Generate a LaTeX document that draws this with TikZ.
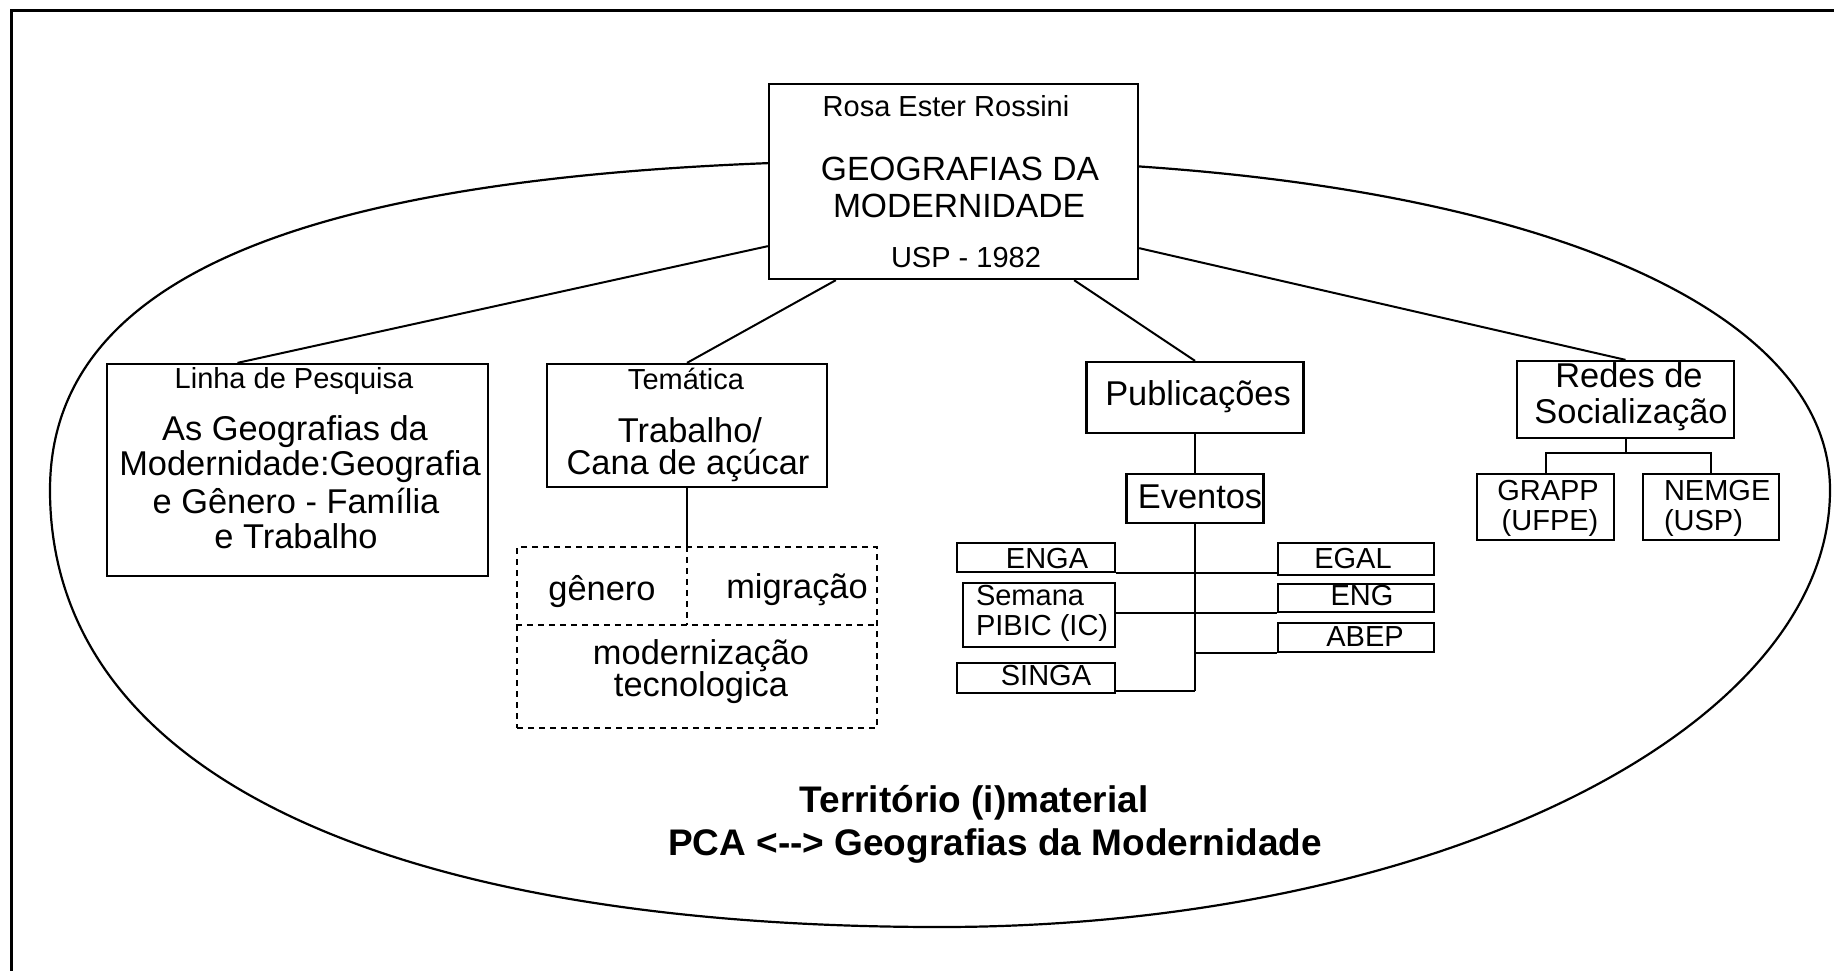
\documentclass[tikz,border=0pt]{standalone}
\usepackage{fontspec}
\setmainfont{Liberation Sans}
\usetikzlibrary{calc}

\begin{document}
\begin{tikzpicture}[
    x=0.5pt, y=-0.5pt,
    line width=1pt,
    box/.style={draw, fill=white, line width=1.15pt, inner sep=0pt},
    dashbox/.style={draw, dash pattern=on 3pt off 2.5pt, line width=1.1pt},
    txt/.style={inner sep=0pt, anchor=base, font=\fontsize{17.2}{20}\selectfont},
    smalltxt/.style={txt, font=\fontsize{14.5}{17}\selectfont},
    titletxt/.style={txt, font=\fontsize{18.5}{22}\selectfont\bfseries}
]
    \fill[white] (0,0) rectangle (1834,971);
    \useasboundingbox (0,0) rectangle (1834,971);

    % moldura e contorno do territorio
    \draw[line width=1.5pt] (1834,10) -- (11,10) -- (11,971);
    \draw[line width=1.1pt] (50,490) .. controls (50,258) and (350,160) .. (940,160)
        .. controls (1480,160) and (1830,292) .. (1830,490)
        .. controls (1830,731) and (1431,927) .. (940,927)
        .. controls (400,927) and (50,780) .. (50,490) -- cycle;

    % caixas
    \node[box, minimum width=184.5pt, minimum height=97.5pt] (topbox) at (953.5,181.5) {};
    \node[box, minimum width=190.5pt, minimum height=106pt] (linha) at (297.5,470) {};
    \node[box, minimum width=140pt, minimum height=61.5pt] (tematica) at (687,425.5) {};
    \node[dashbox, minimum width=180pt, minimum height=90.5pt, inner sep=0pt] (temas) at (697,637.5) {};
    \node[box, minimum width=108.5pt, minimum height=35.5pt] (publ) at (1195,397.5) {};
    \node[box, minimum width=68.5pt, minimum height=24.5pt] (eventos) at (1195,498.5) {};
    \node[box, minimum width=79pt, minimum height=14.5pt] (enga) at (1036,557.5) {};
    \node[box, minimum width=76pt, minimum height=32pt] (semana) at (1039,615) {};
    \node[box, minimum width=79pt, minimum height=15pt] (singa) at (1036,678) {};
    \node[box, minimum width=78pt, minimum height=16pt] (egal) at (1356,559) {};
    \node[box, minimum width=78pt, minimum height=14pt] (eng) at (1356,598) {};
    \node[box, minimum width=78pt, minimum height=14.5pt] (abep) at (1356,637.5) {};
    \node[box, minimum width=108.5pt, minimum height=38.5pt] (redes) at (1625.5,399.5) {};
    \node[box, minimum width=68.5pt, minimum height=33pt] (grapp) at (1545.5,507) {};
    \node[box, minimum width=68pt, minimum height=33pt] (nemge) at (1711,507) {};

    % ligacoes da caixa central
    \draw ($(topbox.south west)+(0,-34)$) -- ($(linha.north)+(-60,0)$);
    \draw ($(topbox.south west)+(68,0)$) -- (tematica.north);
    \draw ($(topbox.south east)+(-65,0)$) -- (publ.north);
    \draw ($(topbox.south east)+(0,-32)$) -- (redes.north);

    % tematica e divisoes tracejadas
    \draw (tematica.south) -- (tematica.south |- temas.north);
    \draw[dashbox] (tematica.south |- temas.north) -- ($(tematica.south |- temas.north)+(0,79)$);
    \draw[dashbox] ($(temas.north west)+(0,79)$) -- ($(temas.north east)+(0,79)$);

    % publicacoes e eventos
    \draw (publ.south) -- (eventos.north);
    \draw (eventos.south) -- (eventos.south |- {$(singa.south east)+(0,-3)$});
    \draw (enga.south east) -- (egal.west |- enga.south east);
    \draw (semana.east |- eng.south west) -- (eng.south west);
    \draw (eventos.south |- abep.south west) -- (abep.south west);
    \draw ($(singa.south east)+(0,-3)$) -- (eventos.south |- {$(singa.south east)+(0,-3)$});

    % redes de socializacao
    \draw (redes.south) -- ++(0,14) coordinate (fork);
    \draw (grapp.north) |- (fork) -| (nemge.north);

    % textos
    \node[smalltxt] (t1) at (946,116) {Rosa Ester Rossini};
    \node[txt, font=\fontsize{16.8}{20}\selectfont] (t2) at (960,180) {GEOGRAFIAS DA};
    \node[txt, font=\fontsize{16.8}{20}\selectfont] (t3) at (959,217) {MODERNIDADE};
    \node[smalltxt] (t4) at (966,267) {USP - 1982};

    \node[smalltxt] (l1) at (294,388) {Linha de Pesquisa};
    \node[txt] (l2) at (295,440) {As Geografias da};
    \node[txt] (l3) at (300,475) {Modernidade:Geografia};
    \node[txt] (l4) at (296,513) {e Gênero - Família};
    \node[txt] (l5) at (296,548) {e Trabalho};

    \node[smalltxt] (m1) at (686,389) {Temática};
    \node[txt] (m2) at (690,442) {Trabalho/};
    \node[txt] (m3) at (688,474) {Cana de açúcar};
    \node[txt] (d1) at (602,600) {gênero};
    \node[txt] (d2) at (797,598) {migração};
    \node[txt] (d3) at (701,664) {modernização};
    \node[txt] (d4) at (701,696) {tecnologica};

    \node[txt] (p1) at (1198,405) {Publicações};
    \node[txt] (p2) at (1200,508) {Eventos};
    \node[smalltxt] (e1) at (1047,568) {ENGA};
    \node[smalltxt, anchor=base west] (e2) at (975,605) {Semana};
    \node[smalltxt, anchor=base west] (e3) at (975,635) {PIBIC (IC)};
    \node[smalltxt] (e4) at (1046,685) {SINGA};
    \node[smalltxt] (e5) at (1353,568) {EGAL};
    \node[smalltxt] (e6) at (1362,605) {ENG};
    \node[smalltxt] (e7) at (1365,646) {ABEP};

    \node[txt] (r1) at (1629,387) {Redes de};
    \node[txt] (r2) at (1631,423) {Socialização};
    \node[smalltxt] (r3) at (1548,500) {GRAPP};
    \node[smalltxt] (r4) at (1550,530) {(UFPE)};
    \node[smalltxt, anchor=base west] (r5) at (1663,500) {NEMGE};
    \node[smalltxt, anchor=base west] (r6) at (1663,530) {(USP)};

    % titulo
    \node[titletxt] (title1) at (974,812) {Território (i)material};
    \node[titletxt] (title2) at (995,855) {PCA <-\kern0pt-> Geografias da Modernidade};
\end{tikzpicture}
\end{document}
